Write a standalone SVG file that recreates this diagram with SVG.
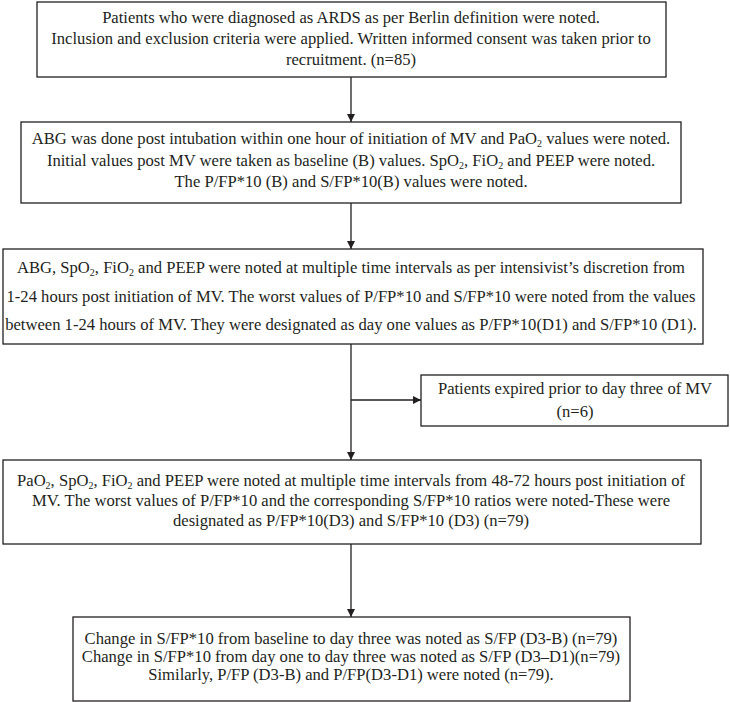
<svg xmlns="http://www.w3.org/2000/svg" width="730" height="702" viewBox="0 0 730 702">
<defs>
<style>
.box{fill:#fff;stroke:#231f20;stroke-width:1.3}
.t{font-family:"Liberation Serif","Times New Roman",serif;font-size:16.6px;fill:#231f20;text-anchor:middle}
.s{font-size:10px}
.ln{stroke:#231f20;stroke-width:1.3;fill:none}
</style>
<marker id="ah" viewBox="0 0 10 10" refX="10" refY="5" markerWidth="8" markerHeight="8" markerUnits="userSpaceOnUse" orient="auto">
<path d="M0,0 L10,5 L0,10 z" fill="#231f20"/>
</marker>
</defs>
<rect width="730" height="702" fill="#fff"/>
<g id="connectors">
<line class="ln" x1="351" y1="77" x2="351" y2="122" marker-end="url(#ah)"/>
<line class="ln" x1="351" y1="203" x2="351" y2="249" marker-end="url(#ah)"/>
<line class="ln" x1="351" y1="344" x2="351" y2="460" marker-end="url(#ah)"/>
<line class="ln" x1="351" y1="400" x2="421" y2="400" marker-end="url(#ah)"/>
<line class="ln" x1="351" y1="544" x2="351" y2="617" marker-end="url(#ah)"/>
</g>
<g id="n1">
<rect class="box" x="37" y="2" width="629" height="75"/>
<text class="t" x="351" y="23">Patients who were diagnosed as ARDS as per Berlin definition were noted.</text>
<text class="t" x="351" y="44">Inclusion and exclusion criteria were applied. Written informed consent was taken prior to</text>
<text class="t" x="351" y="65">recruitment. (n=85)</text>
</g>
<g id="n2">
<rect class="box" x="21" y="122" width="660" height="81"/>
<text class="t" x="351" y="144">ABG was done post intubation within one hour of initiation of MV and PaO<tspan class="s" dy="3">2</tspan><tspan dy="-3"> values were noted.</tspan></text>
<text class="t" x="351" y="166">Initial values post MV were taken as baseline (B) values. SpO<tspan class="s" dy="3">2</tspan><tspan dy="-3">, FiO</tspan><tspan class="s" dy="3">2</tspan><tspan dy="-3"> and PEEP were noted.</tspan></text>
<text class="t" x="351" y="187">The P/FP*10 (B) and S/FP*10(B) values were noted.</text>
</g>
<g id="n3">
<rect class="box" x="3" y="249" width="700" height="95"/>
<text class="t" x="351" y="273">ABG, SpO<tspan class="s" dy="3">2</tspan><tspan dy="-3">, FiO</tspan><tspan class="s" dy="3">2</tspan><tspan dy="-3"> and PEEP were noted at multiple time intervals as per intensivist’s discretion from</tspan></text>
<text class="t" x="351" y="302">1-24 hours post initiation of MV. The worst values of P/FP*10 and S/FP*10 were noted from the values</text>
<text class="t" x="351" y="330">between 1-24 hours of MV. They were designated as day one values as P/FP*10(D1) and S/FP*10 (D1).</text>
</g>
<g id="n4">
<rect class="box" x="421" y="375" width="307" height="51"/>
<text class="t" x="575" y="394">Patients expired prior to day three of MV</text>
<text class="t" x="575" y="417">(n=6)</text>
</g>
<g id="n5">
<rect class="box" x="3" y="460" width="698" height="84"/>
<text class="t" x="351" y="486">PaO<tspan class="s" dy="3">2</tspan><tspan dy="-3">, SpO</tspan><tspan class="s" dy="3">2</tspan><tspan dy="-3">, FiO</tspan><tspan class="s" dy="3">2</tspan><tspan dy="-3"> and PEEP were noted at multiple time intervals from 48-72 hours post initiation of</tspan></text>
<text class="t" x="351" y="506">MV. The worst values of P/FP*10 and the corresponding S/FP*10 ratios were noted-These were</text>
<text class="t" x="351" y="526">designated as P/FP*10(D3) and S/FP*10 (D3) (n=79)</text>
</g>
<g id="n6">
<rect class="box" x="73" y="617" width="557" height="84"/>
<text class="t" x="351" y="644">Change in S/FP*10 from baseline to day three was noted as S/FP (D3-B) (n=79)</text>
<text class="t" x="351" y="662">Change in S/FP*10 from day one to day three was noted as S/FP (D3–D1)(n=79)</text>
<text class="t" x="351" y="680">Similarly, P/FP (D3-B) and P/FP(D3-D1) were noted (n=79).</text>
</g>
</svg>
